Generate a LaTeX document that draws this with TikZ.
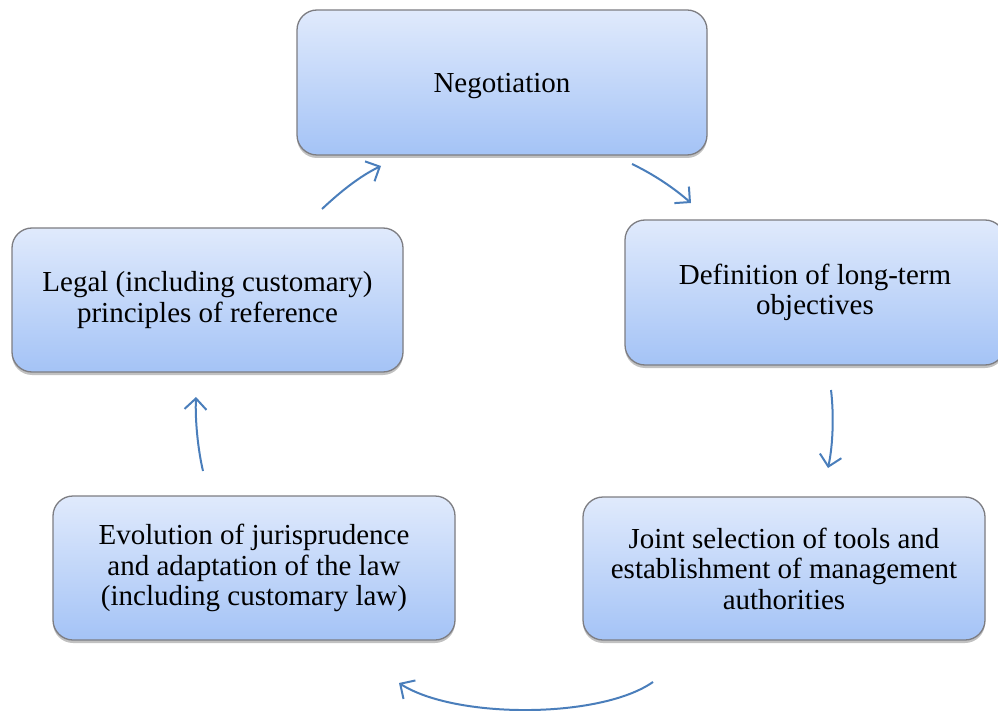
\documentclass[tikz,border=0pt]{standalone}
\usepackage{fontspec}
\setmainfont{Liberation Serif}
\usetikzlibrary{arrows.meta,shadows}
\definecolor{boxtop}{RGB}{224,234,252}
\definecolor{boxbot}{RGB}{164,195,246}
\definecolor{boxline}{RGB}{125,125,130}
\definecolor{arrowc}{RGB}{74,126,187}
\tikzset{
  stage/.style={draw=boxline, line width=1.3pt, rounded corners=20pt,
    top color=boxtop, bottom color=boxbot, align=center,
    font=\fontsize{29}{30.5}\selectfont,
    drop shadow={shadow xshift=0pt, shadow yshift=-3pt, opacity=0.35, fill=black!70},
    inner sep=0pt},
  flow/.style={draw=arrowc, line width=2pt, -{Straight Barb[length=11pt,width=22pt,line width=2pt]}}
}
\begin{document}
\begin{tikzpicture}[x=1pt,y=-1pt]
\useasboundingbox (0,0) rectangle (998,711);
\clip (0,0) rectangle (998,711);
\node[stage, minimum width=410pt, minimum height=145pt, text depth=-4pt] (neg) at (502,82.5) {Negotiation};
\node[stage, minimum width=380pt, minimum height=145pt] (def) at (815,292.5) {Definition of long-term\\objectives};
\node[stage, minimum width=402pt, minimum height=143pt] (joint) at (784,568.5) {Joint selection of tools and\\establishment of management\\authorities};
\node[stage, minimum width=402pt, minimum height=144pt] (evo) at (254,568) {Evolution of jurisprudence\\and adaptation of the law\\(including customary law)};
\node[stage, minimum width=391pt, minimum height=144pt] (leg) at (207.5,300) {Legal (including customary)\\principles of reference};

\coordinate (a1s) at (322,209); \coordinate (a1e) at (381,166);
\coordinate (a2s) at (632,164); \coordinate (a2e) at (691,203);
\coordinate (a3s) at (831,390); \coordinate (a3e) at (828,468);
\coordinate (a4s) at (653,682); \coordinate (a4e) at (399,683);
\coordinate (a5s) at (203,471); \coordinate (a5e) at (196,397);

\draw[flow] (a1s) .. controls (340,192) and (360,176) .. (a1e);
\draw[flow] (a2s) .. controls (655,175) and (675,189) .. (a2e);
\draw[flow] (a3s) .. controls (834,415) and (833,445) .. (a3e);
\draw[flow] (a4s) .. controls (600,719) and (455,719) .. (a4e);
\draw[flow] (a5s) .. controls (198,450) and (195,420) .. (a5e);
\end{tikzpicture}
\end{document}
